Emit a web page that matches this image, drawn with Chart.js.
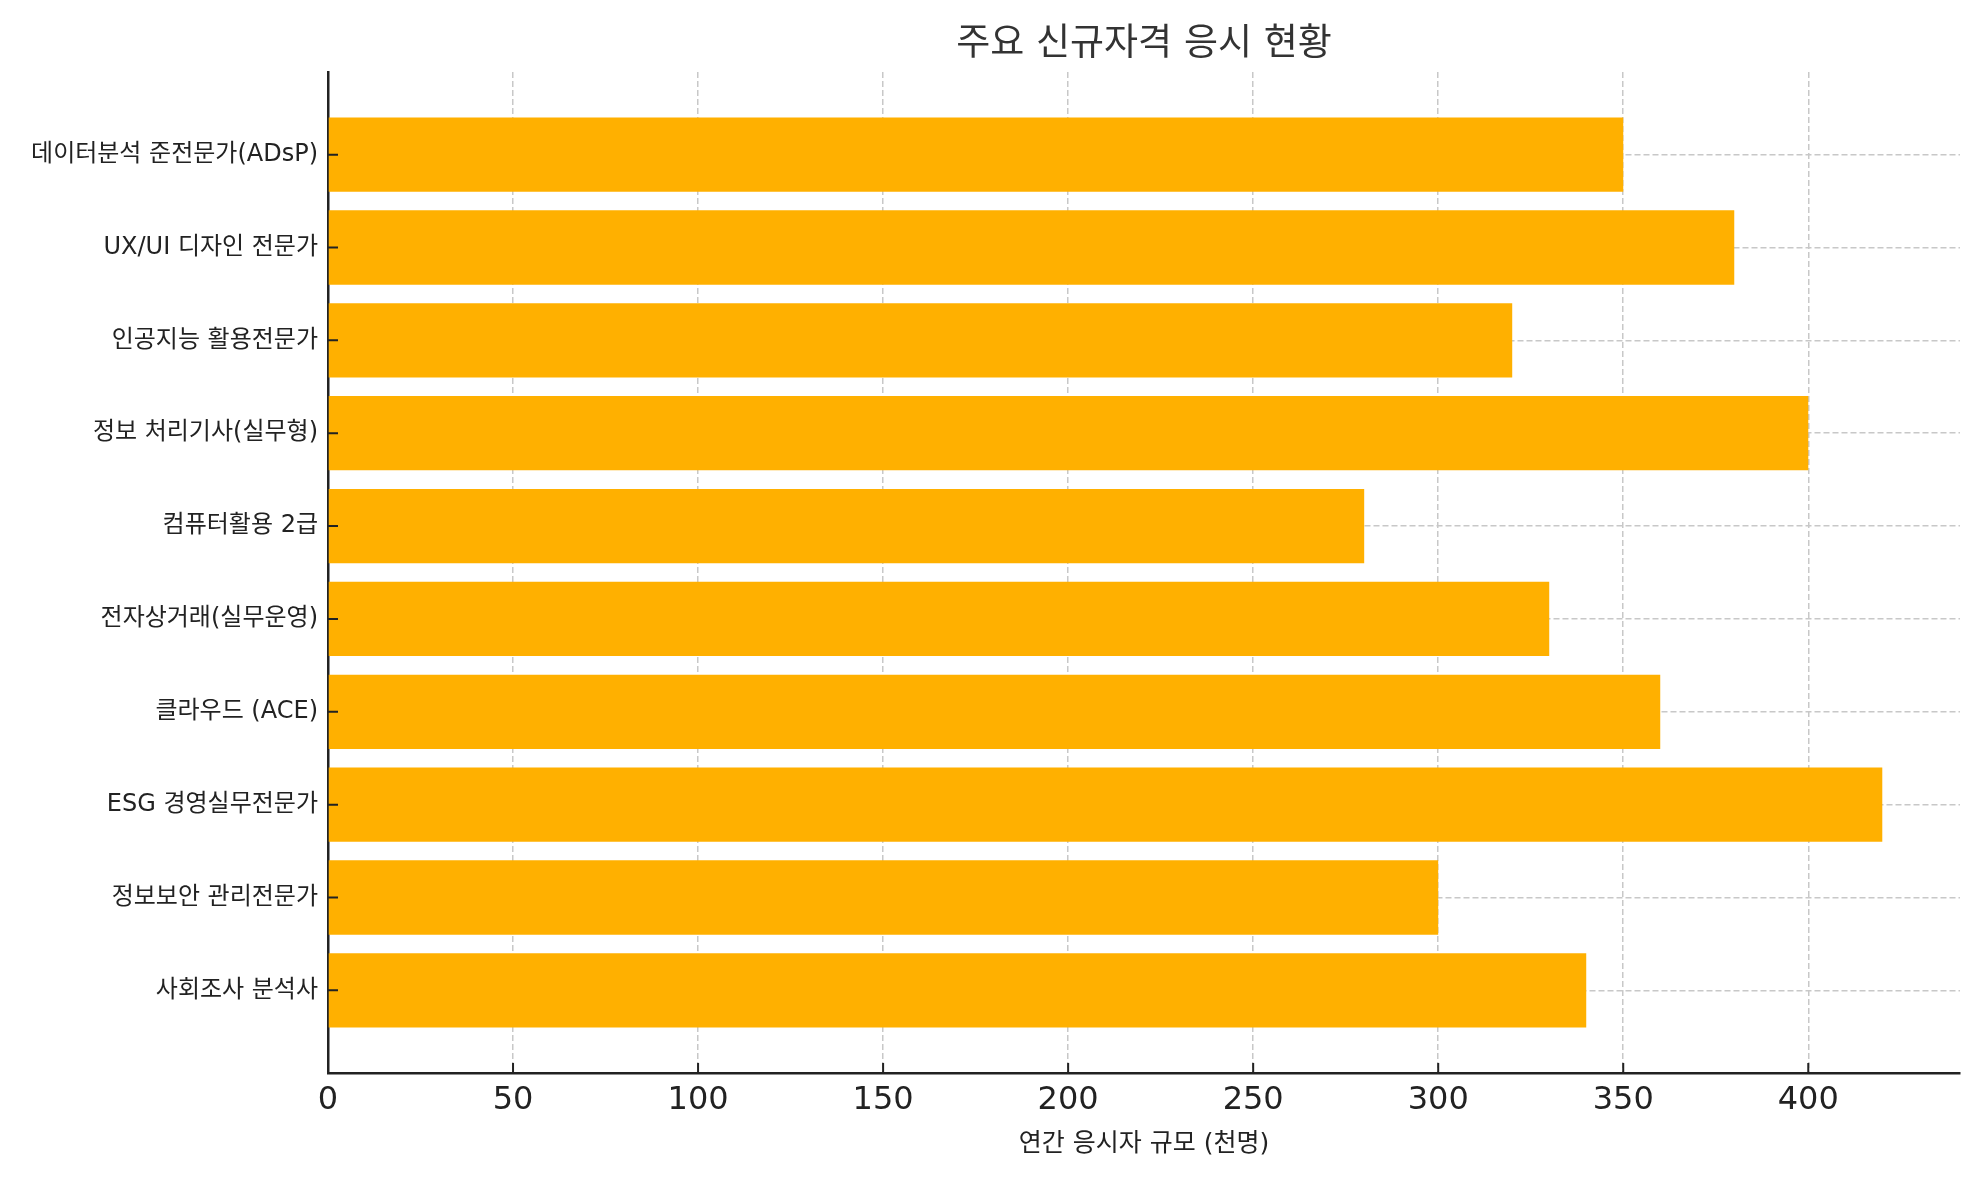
<!DOCTYPE html>
<html lang="ko">
<head>
<meta charset="utf-8">
<title>주요 신규자격 응시 현황</title>
<script src="https://cdn.jsdelivr.net/npm/chart.js@4.4.1/dist/chart.umd.min.js"></script>
<style>
    html, body { margin: 0; padding: 0; background: #fff; }
    #wrap { width: 1979px; height: 1180px; }
</style>
</head>
<body>
<div id="wrap"><canvas id="certChart"></canvas></div>
<script>
// 데이터
const chartTitle = '주요 신규자격 응시 현황';
const xAxisTitle = '연간 응시자 규모 (천명)';
const categories = [
    '데이터분석 준전문가(ADsP)',
    'UX/UI 디자인 전문가',
    '인공지능 활용전문가',
    '정보 처리기사(실무형)',
    '컴퓨터활용 2급',
    '전자상거래(실무운영)',
    '클라우드 (ACE)',
    'ESG 경영실무전문가',
    '정보보안 관리전문가',
    '사회조사 분석사'
];
const applicants = [350, 380, 320, 400, 280, 330, 360, 420, 300, 340];
const xTicks = [0, 50, 100, 150, 200, 250, 300, 350, 400];

const fontFamily = '"DejaVu Sans", "Noto Sans CJK KR", sans-serif';

// matplotlib 스타일의 안쪽 눈금
const innerTicks = {
    id: 'innerTicks',
    afterDraw(chart) {
        const { ctx, chartArea, scales } = chart;
        ctx.save();
        ctx.strokeStyle = '#222';
        ctx.lineWidth = 2;
        ctx.beginPath();
        scales.x.ticks.forEach(t => {
            const px = scales.x.getPixelForValue(t.value);
            ctx.moveTo(px, chartArea.bottom);
            ctx.lineTo(px, chartArea.bottom - 10);
        });
        scales.y.ticks.forEach(t => {
            const py = scales.y.getPixelForValue(t.value);
            ctx.moveTo(chartArea.left, py);
            ctx.lineTo(chartArea.left + 10, py);
        });
        ctx.stroke();
        ctx.restore();
    }
};

new Chart(document.getElementById('certChart'), {
    type: 'bar',
    data: {
        datasets: [{
            label: xAxisTitle,
            data: applicants.map((v, i) => ({ x: v, y: i })),
            backgroundColor: '#ffb000',
            borderWidth: 0,
            categoryPercentage: 1.0,
            barPercentage: 0.8
        }]
    },
    options: {
        indexAxis: 'y',
        responsive: true,
        maintainAspectRatio: false,
        animation: false,
        layout: { padding: { left: 0, right: 19, top: 0, bottom: 0 } },
        plugins: {
            legend: { display: false },
            tooltip: { enabled: false },
            title: {
                display: true,
                text: chartTitle,
                fullSize: false,
                color: '#333',
                font: { family: fontFamily, size: 37, weight: 'normal', lineHeight: 1.2 },
                padding: { top: 23, bottom: 4.6 }
            }
        },
        scales: {
            x: {
                type: 'linear',
                min: 0,
                max: 441,
                z: 1,
                afterBuildTicks: s => { s.ticks = xTicks.map(v => ({ value: v })); },
                afterFit: s => { s.height = 107; },
                ticks: {
                    color: '#222',
                    padding: 8,
                    font: { family: fontFamily, size: 32 }
                },
                grid: { color: '#c8c8c8', lineWidth: 1.5, drawTicks: false },
                border: { display: true, color: '#222', width: 2.5, dash: [6, 3] },
                title: {
                    display: true,
                    text: xAxisTitle,
                    color: '#222',
                    font: { family: fontFamily, size: 25 },
                    padding: { top: 0, bottom: 21 }
                }
            },
            y: {
                type: 'linear',
                reverse: true,
                offset: false,
                min: -0.89,
                max: 9.89,
                z: 1,
                afterBuildTicks: s => { s.ticks = categories.map((c, i) => ({ value: i })); },
                afterFit: s => { s.width = 328; },
                ticks: {
                    color: '#222',
                    padding: 10,
                    font: { family: fontFamily, size: 24 },
                    callback: v => categories[v]
                },
                grid: { color: '#c8c8c8', lineWidth: 1.5, drawTicks: false, offset: false },
                border: { display: true, color: '#222', width: 2.5, dash: [6, 3] }
            }
        }
    },
    plugins: [innerTicks]
});
</script>
</body>
</html>
